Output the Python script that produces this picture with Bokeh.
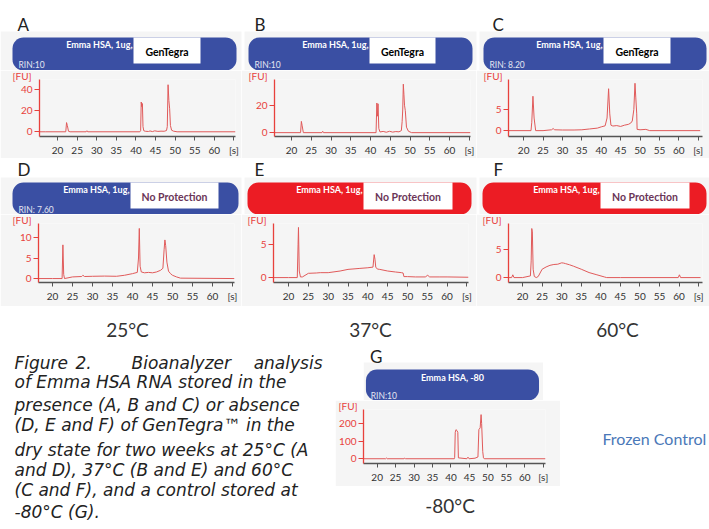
from bokeh.plotting import figure
from bokeh.layouts import column, row
from bokeh.models import Range1d, FixedTicker, Label, BoxAnnotation, Title
from bokeh.embed import file_html
from bokeh.resources import INLINE

# ---------------- data ----------------
X_TICKS = [20, 25, 30, 35, 40, 45, 50, 55, 60, 65]
X_TICK_LABELS = {65: "[s]"}

A_T = [15.4, 17.0, 22.1, 22.3, 22.5, 22.8, 23.2, 27.3, 27.5, 27.7, 41.0, 41.2, 41.35, 41.5, 41.65, 41.8,
       42.0, 42.4, 43.2, 43.6, 44.2, 44.8, 45.6, 46.4, 47.2, 47.8, 48.0, 48.2, 48.4, 48.6, 48.8, 49.1,
       49.6, 50.5, 65.4]
A_FU = [0, 0, 0, 8.8, 6, 0.5, 0, 0, 1, 0, 0, 1, 28.5, 24, 27, 5, 1, 0.5, 0.3, 0.8, 0.2, 0.9, 0.4, 0.6,
        0.5, 1.2, 5, 45, 30, 22, 6, 1.5, 0.6, 0, 0]
A_YT = [0, 20, 40]

B_T = [15.7, 22.3, 22.5, 22.7, 23.0, 27.7, 27.9, 28.1, 41.4, 41.6, 41.75, 41.9, 42.1, 42.4, 43.2, 44.0,
       44.8, 45.6, 46.4, 47.2, 47.8, 48.0, 48.15, 48.3, 48.45, 48.6, 48.8, 49.1, 49.6, 50.4, 65.3]
B_FU = [0, 0, 8.2, 5, 0, 0, 1, 0, 0, 21.6, 12, 21, 3, 0.5, 0.9, 0.3, 1.0, 0.4, 0.8, 0.6, 1.5, 8, 16.5,
        35.3, 28, 20, 16, 4, 1, 0, 0]
B_YT = [0, 20]

C_T = [16.1, 21.9, 22.1, 22.4, 22.7, 23.1, 25.0, 27.2, 27.6, 28.0, 30.0, 33.0, 35.0, 37.0, 39.0, 40.0,
       41.0, 41.5, 41.9, 42.2, 42.5, 43.0, 44.0, 45.0, 46.0, 47.0, 47.6, 48.0, 48.4, 48.7, 48.9, 49.15,
       49.25, 50.0, 51.5, 52.5, 65.5]
C_FU = [0, 0, 2, 8.2, 3, 0, 0, 0.2, 0.5, 0.2, 0.15, 0.15, 0.2, 0.4, 0.6, 0.9, 1.15, 3, 10, 4, 1.3, 1.1,
        1.2, 1.0, 1.3, 1.5, 1.8, 2.3, 5, 11.3, 8, 4, 0.3, 0.2, 0.3, 0, 0]
C_YT = [0, 5]

D_T = [16.5, 20.0, 22.4, 22.6, 22.8, 23.0, 25.0, 27.3, 27.6, 28.0, 30.0, 33.0, 36.0, 38.0, 40.0, 41.2,
       41.5, 41.7, 41.9, 42.2, 43.0, 44.0, 45.0, 46.0, 47.0, 47.6, 47.9, 48.1, 48.3, 48.6, 49.0, 49.5,
       50.0, 51.0, 52.0, 65.5]
D_FU = [0, 0, 0, 8.2, 1, 0, 0.4, 0.5, 0.8, 0.5, 0.55, 0.6, 0.55, 0.8, 1.2, 1.5, 5, 12.2, 3, 1.6, 1.4,
        1.5, 1.4, 1.6, 2.0, 2.5, 7, 9.4, 8, 4, 1.8, 1.2, 0.8, 0.4, 0.1, 0]
D_YT = [0, 5, 10]

E_T = [16.2, 20.0, 22.2, 22.4, 22.5, 22.7, 23.0, 23.5, 25.0, 27.0, 28.0, 30.0, 33.0, 35.0, 38.0, 40.0,
       41.3, 41.6, 41.8, 42.0, 42.4, 43.0, 45.0, 47.0, 48.5, 48.9, 49.1, 50.0, 52.0, 54.5, 55.1, 55.6,
       58.0, 60.0, 65.4]
E_FU = [0, 0, 0, 5, 7.65, 1, 0.1, 0.1, 0.65, 0.7, 0.75, 0.75, 1.0, 1.25, 1.4, 1.5, 1.6, 3.5, 2.8, 1.6,
        1.3, 1.25, 1.0, 0.85, 0.75, 0.7, 0.15, 0.15, 0.1, 0.1, 0.35, 0.1, 0.1, 0.1, 0.05]
E_YT = [0, 5]

F_T = [16.4, 17.2, 17.5, 17.8, 20.0, 22.0, 22.2, 22.35, 22.5, 22.7, 23.0, 23.5, 24.0, 25.0, 26.0, 27.0,
       28.0, 29.0, 30.0, 30.5, 31.0, 32.0, 33.0, 35.0, 37.0, 39.0, 41.0, 41.5, 45.0, 59.8, 60.1, 60.4,
       65.5]
F_FU = [0, 0, 0.5, 0, 0, 0.3, 3, 8.8, 8.2, 1.5, 0.2, 0, 0.2, 1.5, 1.9, 2.2, 2.35, 2.4, 2.65, 2.6, 2.5,
        2.3, 2.05, 1.5, 0.9, 0.5, 0.1, 0, 0, 0, 0.5, 0, 0]
F_YT = [0, 5]

G_T = [16.3, 22.3, 22.5, 22.7, 27.3, 27.5, 27.7, 40.9, 41.0, 41.15, 41.35, 41.6, 41.85, 42.0, 44.3,
       44.6, 44.9, 46.5, 47.3, 47.55, 47.9, 48.15, 48.3, 48.6, 48.8, 49.0, 65.6]
G_FU = [0, 0, 4, 0, 0, 4, 0, 0, 8, 150, 165, 160, 150, 5, 0, 9, 0, 3, 10, 165, 175, 250, 200, 40, 5, 0, 0]
G_YT = [0, 100, 200]

LETTERS = ["A", "B", "C", "D", "E", "F", "G"]
TEMPS = ["25°C", "37°C", "60°C"]
CAPTION = [
    "of Emma  HSA RNA stored in the",
    "presence (A, B and C) or absence",
    "(D, E and F) of GenTegra\u2122 in the",
    "dry state for two weeks at 25°C (A",
    "and D), 37°C (B and E) and 60°C",
    "(C and F), and a control stored at",
    "-80°C (G).",
]
CAPTION_FIRST = ["Figure", "2.", "Bioanalyzer", "analysis"]

# ---------------- styles ----------------
BLUE = "#3a4fa3"
RED = "#ec1c24"
AXIS_RED = "#e8413c"
TRACE = "#e05a5a"
PANEL_BG = "#f5f5f5"
TICK_FONT = "Lato"


def canvas(x0, x1, y0, y1):
    p = figure(width=x1 - x0, height=y1 - y0, x_range=Range1d(x0, x1), y_range=Range1d(-y1, -y0),
               x_axis_type=None, y_axis_type=None, output_backend="svg", toolbar_location=None,
               title=None, min_border=0)
    p.grid.visible = False
    p.outline_line_color = None
    p.background_fill_color = "white"
    p.border_fill_color = "white"
    return p


def box(p, x0, x1, y0, y1, color, radius=0):
    p.add_layout(BoxAnnotation(left=x0, right=x1, top=-y0, bottom=-y1, fill_color=color, fill_alpha=1.0,
                               line_color=None, border_radius=radius))


def txt(p, x, y, s, size, color, font="Lato", style="normal", align="left"):
    # y is the vertical centre of the text line
    p.add_layout(Label(x=x, y=-y, text=s, text_font=font, text_font_size=f"{size}px", text_color=color,
                       text_font_style=style, text_align=align, text_baseline="middle"))


def header(p, x0, x1, y0, y1, color, bx0=None, bx1=None, by1=None, tag=None, tag_color="black",
           name="Emma HSA, 1ug,", rin=None, tag_y=None, name_y=None, rin_y=None):
    box(p, x0, x1, y0, y1, color, radius=11)
    if bx0 is not None:
        box(p, bx0, bx1, y0, by1, "white")
        txt(p, (bx0 + bx1) / 2, tag_y, tag, 10.5, tag_color, style="bold", align="center")
        txt(p, bx0 - 1, name_y, name, 9, "white", style="bold", align="right")
    else:
        txt(p, (x0 + x1) / 2, name_y, name, 9, "white", style="bold", align="center")
    if rin:
        txt(p, x0 + 6, rin_y, rin, 8.5, "#e4e6f2")


def panel(t, fu, yt, fx0, fx1, fy0, fy1, fl, fr, fb, xr, yr, fu_x):
    p = figure(width=fx1 - fx0, height=fy1 - fy0, x_range=Range1d(*xr), y_range=Range1d(*yr),
               output_backend="svg", toolbar_location=None, title=None,
               min_border_left=fl - fx0, min_border_right=fx1 - fr,
               min_border_top=0, min_border_bottom=fy1 - fb)
    p.grid.visible = False
    p.outline_line_color = None
    p.background_fill_color = PANEL_BG
    p.border_fill_color = PANEL_BG
    p.line(t, fu, line_color=TRACE, line_width=1)

    xa = p.xaxis[0]
    xa.ticker = FixedTicker(ticks=X_TICKS)
    xa.major_label_overrides = X_TICK_LABELS
    xa.axis_line_color = "#555555"
    xa.axis_line_width = 1.3
    xa.major_tick_line_color = "#555555"
    xa.major_tick_in = 0
    xa.major_tick_out = 4
    xa.minor_tick_line_color = None
    xa.major_label_standoff = 3
    xa.major_label_text_font = TICK_FONT
    xa.major_label_text_font_size = "10px"
    xa.major_label_text_color = "#333333"

    ya = p.yaxis[0]
    ya.ticker = FixedTicker(ticks=yt)
    ya.axis_line_color = AXIS_RED
    ya.axis_line_width = 1.3
    ya.major_tick_line_color = AXIS_RED
    ya.major_tick_in = 0
    ya.major_tick_out = 5
    ya.minor_tick_line_color = None
    ya.major_label_standoff = 2
    ya.major_label_text_font = TICK_FONT
    ya.major_label_text_font_size = "10px"
    ya.major_label_text_color = AXIS_RED

    p.add_layout(Title(text="[FU]", align="left", offset=fu_x - fl, standoff=-5,
                       text_font="Lato", text_font_size="10px", text_font_style="normal",
                       text_color=AXIS_RED, vertical_align="bottom"), "above")
    return p


# ---------------- row 1 ----------------
h1 = canvas(0, 709, 0, 70)
for x0, x1 in [(0, 241), (244, 476), (479, 709)]:
    box(h1, x0, x1, 31, 70, PANEL_BG)
txt(h1, 17, 24, LETTERS[0], 17, "#222222")
txt(h1, 254, 24, LETTERS[1], 17, "#222222")
txt(h1, 492, 24, LETTERS[2], 17, "#222222")
header(h1, 12, 236, 37, 70, BLUE, 133, 200, 63, "GenTegra", rin="RIN:10", tag_y=51, name_y=44, rin_y=64)
header(h1, 248, 472, 37, 70, BLUE, 369, 435, 63, "GenTegra", rin="RIN:10", tag_y=51, name_y=44, rin_y=64)
header(h1, 483, 706, 37, 70, BLUE, 603, 670, 63, "GenTegra", rin="RIN: 8.20", tag_y=51, name_y=44, rin_y=64)

pA = panel(A_T, A_FU, A_YT, 0, 241, 70, 158, 39, 235, 137, (15.4, 65.4), (-4.5, 50), 12)
pB = panel(B_T, B_FU, B_YT, 241, 476, 70, 158, 274, 470, 136, (15.7, 65.3), (-2.8, 38.7), 248)
pC = panel(C_T, C_FU, C_YT, 476, 709, 70, 158, 508, 702, 136, (16.1, 66.1), (-1.4, 12.2), 483)

# ---------------- row 2 ----------------
h2 = canvas(0, 709, 158, 214)
for x0, x1 in [(0, 241), (244, 476), (479, 709)]:
    box(h2, x0, x1, 177, 214, PANEL_BG)
txt(h2, 17, 169, LETTERS[3], 17, "#222222")
txt(h2, 254, 169, LETTERS[4], 17, "#222222")
txt(h2, 493, 169, LETTERS[5], 17, "#222222")
NP = "#6b3557"
header(h2, 12, 238, 182, 214, BLUE, 130, 218, 208, "No Protection", NP, rin="RIN: 7.60", tag_y=196, name_y=189, rin_y=209)
header(h2, 247, 471, 182, 214, RED, 363, 452, 209, "No Protection", NP, tag_y=196, name_y=189)
header(h2, 482, 706, 182, 214, RED, 600, 689, 208, "No Protection", NP, tag_y=196, name_y=189)

pD = panel(D_T, D_FU, D_YT, 0, 241, 214, 306, 38, 234, 282, (16.5, 65.5), (-0.96, 13.4), 12)
pE = panel(E_T, E_FU, E_YT, 241, 476, 214, 306, 273, 468, 282, (16.2, 65.4), (-0.75, 8.25), 247)
pF = panel(F_T, F_FU, F_YT, 476, 709, 214, 306, 508, 702, 282, (16.4, 66.0), (-0.88, 9.7), 482)

# ---------------- temperatures ----------------
tfig = canvas(0, 709, 306, 345)
for s, cx in zip(TEMPS, [127, 370, 617]):
    txt(tfig, cx, 329, s, 19, "#333333", align="center")

# ---------------- bottom ----------------
cap = canvas(0, 335, 345, 529)
CF = "DejaVu Sans"
for w, x, al in zip(CAPTION_FIRST, [14, 75, 131, 322], ["left", "left", "left", "right"]):
    txt(cap, x, 362, w, 17, "#222222", font=CF, style="italic", align=al)
for s, y in zip(CAPTION, [381, 404, 424, 449, 469, 489, 511]):
    txt(cap, 14, y, s, 17, "#222222", font=CF, style="italic")

gh = canvas(335, 560, 345, 400)
box(gh, 335, 557, 362, 400, PANEL_BG)
txt(gh, 343, 356, LETTERS[6], 17, "#222222")
header(gh, 338, 552, 369, 400, BLUE, name="Emma HSA, -80", rin="RIN:10", name_y=377, rin_y=395)
pG = panel(G_T, G_FU, G_YT, 335, 560, 400, 486, 363, 545, 463, (16.3, 65.6), (-27, 279), 338)
gl = canvas(335, 560, 486, 529)
txt(gl, 442, 505, "-80°C", 19, "#333333", align="center")

rf = canvas(560, 709, 345, 529)
txt(rf, 602, 438, "Frozen Control", 16, "#4a78b8")

layout = column(
    h1,
    row(pA, pB, pC),
    h2,
    row(pD, pE, pF),
    tfig,
    row(cap, column(gh, pG, gl), rf),
)

open("out.html", "w").write(file_html(layout, INLINE))
